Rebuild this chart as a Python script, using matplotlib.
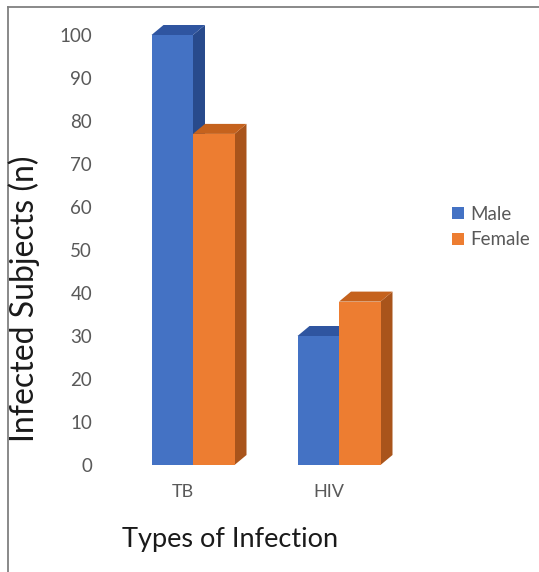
import matplotlib
matplotlib.use("Agg")
import matplotlib.pyplot as plt
from matplotlib.patches import Polygon
from matplotlib.lines import Line2D
from matplotlib.transforms import ScaledTranslation

# Data
categories = ["TB", "HIV"]
series_names = ["Male", "Female"]
male_values = [100, 30]
female_values = [77, 38]
y_ticks = [0, 10, 20, 30, 40, 50, 60, 70, 80, 90, 100]

# Styling
FIG_W, FIG_H, DPI = 539, 572, 100
front_colors = ["#4472C4", "#ED7D31"]
top_colors = ["#2F55A0", "#C5621D"]
side_colors = ["#284A8C", "#A9541B"]
tick_color = "#595959"
font = ["Lato", "DejaVu Sans"]

px_per_cat = 146.0       # horizontal pixels between category centres
px_per_unit = 4.3        # vertical pixels per value unit
bar_w = 41.5 / px_per_cat
depth_dx = 12.0 / px_per_cat
depth_dy = 10.0 / px_per_unit
xlim = (-0.6, 1.6)
ylim = (0, 105)

fig = plt.figure(figsize=(FIG_W / DPI, FIG_H / DPI), dpi=DPI)
fig.patch.set_facecolor("white")

x0_px = 193 - (0 - xlim[0]) * px_per_cat
ax_w_px = (xlim[1] - xlim[0]) * px_per_cat
ax_h_px = (ylim[1] - ylim[0]) * px_per_unit
base_px = 465
ax = fig.add_axes([x0_px / FIG_W, (FIG_H - base_px) / FIG_H,
                   ax_w_px / FIG_W, ax_h_px / FIG_H])
ax.set_xlim(*xlim)
ax.set_ylim(*ylim)

series = [male_values, female_values]
xs = list(range(len(categories)))

for ci, x in enumerate(xs):
    for si, vals in enumerate(series):
        h = vals[ci]
        left = x - bar_w + si * bar_w
        right = left + bar_w
        z = ci * 10 + si * 3
        # side face
        ax.add_patch(Polygon([(right, 0), (right, h), (right + depth_dx, h + depth_dy),
                              (right + depth_dx, depth_dy)], closed=True,
                             facecolor=side_colors[si], edgecolor="none", zorder=2 + z))
        # top face
        ax.add_patch(Polygon([(left, h), (right, h), (right + depth_dx, h + depth_dy),
                              (left + depth_dx, h + depth_dy)], closed=True,
                             facecolor=top_colors[si], edgecolor="none", zorder=3 + z))
        # front face
        ax.bar(left, h, width=bar_w, align="edge", color=front_colors[si],
               edgecolor="none", zorder=4 + z,
               label=series_names[si] if ci == 0 else None)

for sp in ax.spines.values():
    sp.set_visible(False)

ax.set_yticks(y_ticks)
ax.set_yticklabels([str(v) for v in y_ticks], fontsize=13.5, color=tick_color, family=font)
ax.tick_params(axis="y", length=0, pad=9.5)

ax.set_xticks(xs)
ax.set_xticklabels(categories, fontsize=13, color=tick_color, family=font)
ax.tick_params(axis="x", length=0, pad=14)
for lbl in ax.get_xticklabels():
    lbl.set_transform(lbl.get_transform() + ScaledTranslation(-10 / DPI, 0, fig.dpi_scale_trans))

fig.text(230 / FIG_W, 1 - 540 / FIG_H, "Types of Infection", fontsize=19.5, color="#1a1a1a",
         family=font, ha="center", va="center")
fig.text(24 / FIG_W, 1 - 299 / FIG_H, "Infected Subjects (n)", fontsize=23, color="#1a1a1a",
         family=font, ha="center", va="center", rotation=90)

leg = fig.legend(loc="center left", bbox_to_anchor=(443 / FIG_W, 1 - 227 / FIG_H),
                 frameon=False, prop={"family": font, "size": 13.5},
                 handlelength=0.6, handleheight=0.6, handletextpad=0.35,
                 labelspacing=0.45, borderpad=0)
for t in leg.get_texts():
    t.set_color(tick_color)

# partial frame around the figure
fig.add_artist(Line2D([8 / FIG_W, 1], [1 - 7 / FIG_H, 1 - 7 / FIG_H],
                      transform=fig.transFigure, color="#808080", lw=1.3))
fig.add_artist(Line2D([8 / FIG_W, 8 / FIG_W], [1 - 7 / FIG_H, 0],
                      transform=fig.transFigure, color="#808080", lw=1.3))

fig.savefig("out.png", dpi=DPI, facecolor="white")
